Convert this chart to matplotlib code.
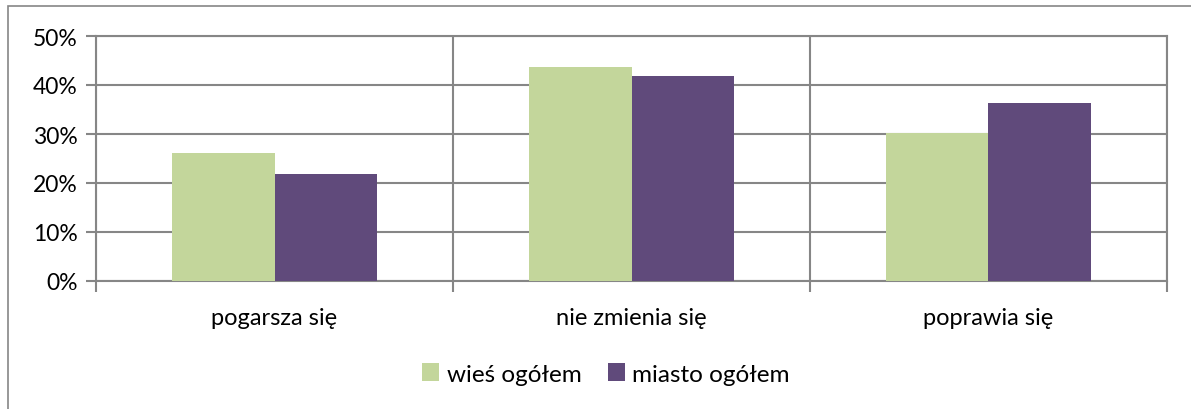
import matplotlib.pyplot as plt
import numpy as np
from matplotlib.patches import Rectangle

categories = ['pogarsza się', 'nie zmienia się', 'poprawia się']
wies = [26.2, 43.6, 30.2]
miasto = [21.8, 41.8, 36.4]
series_names = ['wieś ogółem', 'miasto ogółem']
yticks = [0, 10, 20, 30, 40, 50]

plt.rcParams['font.family'] = ['Lato', 'DejaVu Sans']
green = '#c3d69b'
purple = '#604a7b'
grid = '#868686'

fig = plt.figure(figsize=(11.91, 4.10), dpi=100)
ax = fig.add_axes([96 / 1191, 1 - 282 / 410, (1167 - 96) / 1191, (282 - 37) / 410])

x = np.arange(len(categories))
w = 0.286
ax.bar(x - w / 2, wies, w, color=green, label=series_names[0], zorder=3)
ax.bar(x + w / 2, miasto, w, color=purple, label=series_names[1], zorder=3)

ax.set_xlim(-0.5, 2.5)
ax.set_ylim(0, 50)
ax.set_yticks(yticks)
ax.set_yticklabels([f'{t}%' for t in yticks], fontsize=16.5)
ax.set_xticks(x)
ax.set_xticklabels(categories, fontsize=17)
ax.tick_params(axis='x', which='major', length=0, pad=19)
ax.set_xticks([-0.5, 0.5, 1.5, 2.5], minor=True)
ax.tick_params(axis='x', which='minor', length=8, width=1.5, color=grid)
ax.tick_params(axis='y', length=7, width=1.5, color=grid, pad=6)
ax.grid(axis='y', color=grid, linewidth=1.5, zorder=0)
ax.grid(axis='x', which='minor', color=grid, linewidth=1.5, zorder=0)
for s in ax.spines.values():
    s.set_color(grid)
    s.set_linewidth(1.5)

ax.legend(loc='center', bbox_to_anchor=(606 / 1191, 1 - 375 / 410), bbox_transform=fig.transFigure,
          ncol=2, frameon=False, fontsize=17.5, handlelength=0.7, handleheight=0.7,
          columnspacing=1.1, handletextpad=0.3)

fig.patches.append(Rectangle((8 / 1191, -0.01), 1.1, 1 - 7 / 410 + 0.01, transform=fig.transFigure,
                             fill=False, edgecolor=grid, linewidth=1.2))

fig.savefig('out.png', dpi=100)
